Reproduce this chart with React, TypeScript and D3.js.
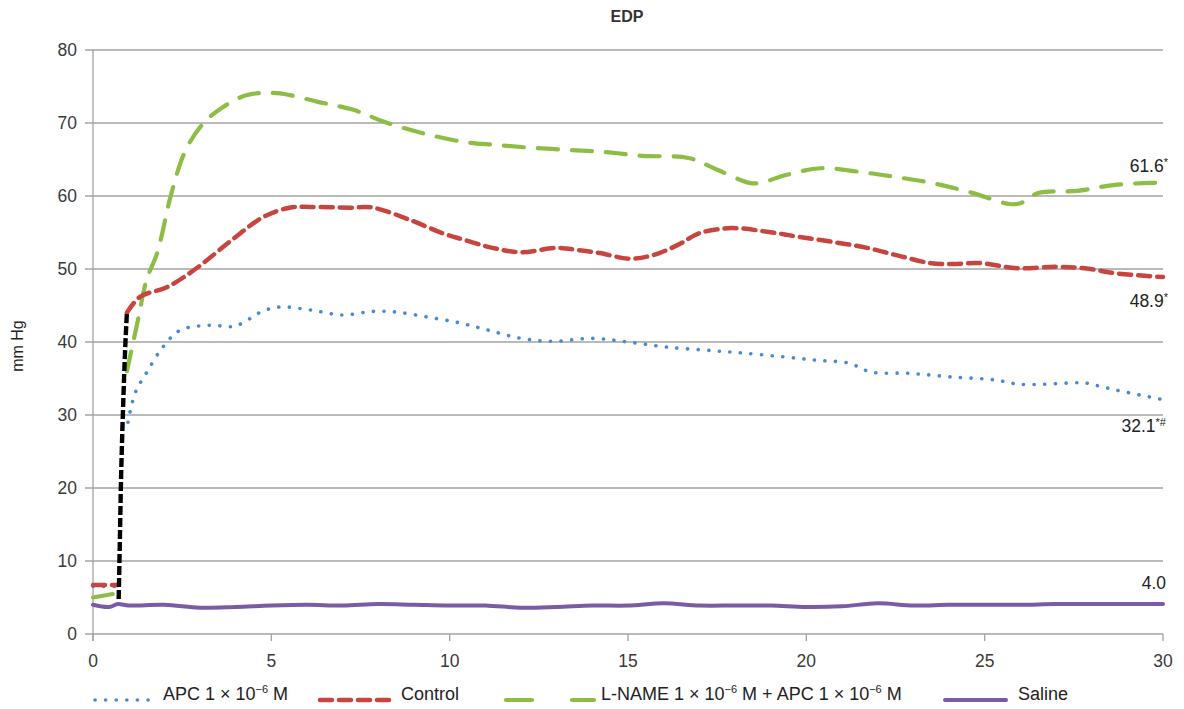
import React, { useEffect, useRef } from 'react';
import * as d3 from 'd3';

type Pt = [number, number];

// minutes vs mm Hg
const apcEarly: Pt[] = [[0, 6.5], [0.7, 6.5]];
const apc: Pt[] = [
  [0.98, 29], [1.18, 33], [1.5, 35.8], [1.96, 39.3], [2.44, 41.6], [3.28, 42.3], [3.9, 42.1], [4.2, 42.6],
  [4.7, 44.1], [5.24, 44.8], [6.08, 44.4], [7, 43.7], [7.85, 44.2], [8.5, 44.1], [9.4, 43.4], [10.3, 42.6],
  [11.1, 41.6], [12, 40.5], [12.9, 40.1], [14, 40.5], [15, 40], [16.1, 39.3], [17.4, 38.8], [18.2, 38.5],
  [19.3, 38], [20.3, 37.5], [21.2, 37.1], [21.8, 35.9], [22.9, 35.7], [24.1, 35.2], [25.3, 34.8], [26, 34.2],
  [27.8, 34.4], [28, 34.2], [28.7, 33.4], [29.8, 32.3], [30, 32.1],
];

const controlEarly: Pt[] = [[0, 6.7], [0.7, 6.7]];
const control: Pt[] = [
  [0.95, 44], [1.32, 46.2], [2.07, 47.5], [2.9, 50.1], [3.9, 54], [4.77, 57.1], [5.5, 58.4], [6.1, 58.5],
  [7.2, 58.4], [7.85, 58.4], [8.9, 56.7], [9.8, 54.9], [10.4, 54], [11.2, 52.9], [12, 52.3], [13, 52.9],
  [13.6, 52.6], [14.2, 52.2], [15.05, 51.4], [15.7, 51.9], [16.4, 53.3], [17, 54.9], [17.9, 55.6], [18.9, 55.1],
  [19.8, 54.4], [20.75, 53.7], [21.7, 52.9], [22.6, 51.8], [23.5, 50.8], [24.2, 50.7], [24.9, 50.8], [25.9, 50.1],
  [27, 50.3], [27.8, 50.1], [28.7, 49.4], [30, 48.9],
];

const lnameEarly: Pt[] = [[0, 5.0], [0.7, 5.6]];
const lname: Pt[] = [
  [0.95, 36], [1.26, 43], [1.5, 48.5], [1.8, 52.2], [2.2, 60.4], [2.6, 66.3], [3.1, 70], [3.65, 72.2],
  [4.3, 73.8], [5.15, 74.1], [6.3, 72.9], [7.3, 71.8], [8.2, 70.1], [9.25, 68.6], [10.4, 67.4], [11.3, 67],
  [12.3, 66.6], [13.4, 66.3], [14.4, 66], [15.4, 65.5], [16.7, 65.2], [17.5, 63.6], [18.4, 61.8], [18.7, 61.8],
  [19.45, 62.9], [20.4, 63.8], [21.5, 63.3], [22.5, 62.6], [23.5, 61.8], [24.6, 60.5], [25.7, 58.9], [26, 59],
  [26.5, 60.4], [27.6, 60.7], [28.6, 61.5], [29.7, 61.8], [30, 61.8],
];

const saline: Pt[] = [
  [0, 4.0], [0.45, 3.7], [0.7, 4.1], [1, 3.9], [2, 4.0], [3, 3.6], [4, 3.7], [5, 3.9], [6, 4.0], [7, 3.9],
  [8, 4.1], [9, 4.0], [10, 3.9], [11, 3.9], [12, 3.6], [13, 3.7], [14, 3.9], [15, 3.9], [16, 4.2], [17, 3.9],
  [18, 3.9], [19, 3.9], [20, 3.7], [21, 3.8], [22, 4.2], [23, 3.9], [24, 4.0], [25, 4.0], [26, 4.0], [27, 4.1],
  [28, 4.1], [29, 4.1], [30, 4.1],
];

// hand drawn black dashed rise
const rise: Pt[] = [[0.72, 4.8], [0.75, 12], [0.79, 22], [0.85, 32], [0.91, 40], [0.95, 44]];

const xTicks = [0, 5, 10, 15, 20, 25, 30];
const yTicks = [0, 10, 20, 30, 40, 50, 60, 70, 80];
const endLabels = [
  { v: 61.6, text: '61.6', sup: '*', dy: -12 },
  { v: 48.9, text: '48.9', sup: '*', dy: 30 },
  { v: 32.1, text: '32.1', sup: '*#', dy: 32 },
  { v: 4.0, text: '4.0', sup: '', dy: -16 },
];

const W = 1184;
const H = 709;
const FONT = '"Liberation Sans", Arial, sans-serif';

export default function App() {
  const ref = useRef<SVGSVGElement>(null);

  useEffect(() => {
    const svg = d3.select(ref.current);
    svg.selectAll('*').remove();

    const x = d3.scaleLinear().domain([0, 30]).range([93, 1163]);
    const y = d3.scaleLinear().domain([0, 80]).range([634, 50]);
    const grid = '#a3a3a3';

    // gridlines
    svg.append('g').selectAll('line').data(yTicks).join('line')
      .attr('x1', 85).attr('x2', x(30))
      .attr('y1', (d) => y(d)).attr('y2', (d) => y(d))
      .attr('stroke', grid).attr('stroke-width', 1.3);

    svg.append('line')
      .attr('x1', x(0)).attr('x2', x(0)).attr('y1', y(80)).attr('y2', 641)
      .attr('stroke', grid).attr('stroke-width', 1.3);

    svg.append('g').selectAll('line').data(xTicks).join('line')
      .attr('x1', (d) => x(d)).attr('x2', (d) => x(d))
      .attr('y1', y(0)).attr('y2', 641)
      .attr('stroke', grid).attr('stroke-width', 1.3);

    svg.append('g').selectAll('text').data(yTicks).join('text')
      .attr('x', 77).attr('y', (d) => y(d)).attr('dy', '0.36em')
      .attr('text-anchor', 'end')
      .style('font', `17.5px ${FONT}`).attr('fill', '#3a3a3a')
      .text((d) => d);

    svg.append('g').selectAll('text').data(xTicks).join('text')
      .attr('x', (d) => x(d)).attr('y', 667)
      .attr('text-anchor', 'middle')
      .style('font', `17.5px ${FONT}`).attr('fill', '#3a3a3a')
      .text((d) => d);

    svg.append('text')
      .attr('transform', `translate(23,${346}) rotate(-90)`)
      .attr('text-anchor', 'middle')
      .style('font', `16px ${FONT}`).attr('fill', '#222')
      .text('mm Hg');

    svg.append('text')
      .attr('x', 627).attr('y', 22).attr('text-anchor', 'middle')
      .style('font', `bold 16px ${FONT}`).attr('fill', '#333')
      .text('EDP');

    const line = d3.line<Pt>()
      .x((d) => x(d[0]))
      .y((d) => y(d[1]))
      .curve(d3.curveCatmullRom.alpha(0.5));

    const styles = {
      apc: { stroke: '#4a88d2', width: 3.6, dash: '0.1 10.5', cap: 'round' },
      control: { stroke: '#c8453f', width: 4.5, dash: '12 7', cap: 'round' },
      lname: { stroke: '#8dbd45', width: 4.2, dash: '20 14', cap: 'round' },
      saline: { stroke: '#7b5ba6', width: 4, dash: null, cap: 'round' },
    };

    const draw = (pts: Pt[], s: any) => {
      const p = svg.append('path')
        .attr('d', line(pts))
        .attr('fill', 'none')
        .attr('stroke', s.stroke)
        .attr('stroke-width', s.width)
        .attr('stroke-linecap', s.cap);
      if (s.dash) p.attr('stroke-dasharray', s.dash);
    };

    draw(saline, styles.saline);
    draw(apcEarly, styles.apc);
    draw(apc, styles.apc);
    draw(lnameEarly, styles.lname);
    draw(lname, styles.lname);
    draw(controlEarly, styles.control);
    draw(control, styles.control);

    svg.append('path')
      .attr('d', d3.line<Pt>().x((d) => x(d[0])).y((d) => y(d[1])).curve(d3.curveMonotoneY)(rise))
      .attr('fill', 'none').attr('stroke', '#000').attr('stroke-width', 4.4)
      .attr('stroke-dasharray', '9 3').attr('stroke-linecap', 'butt');

    // end value labels
    const lab = svg.append('g').selectAll('text').data(endLabels).join('text')
      .attr('x', (d) => (d.sup === '*#' ? 1166 : d.sup ? 1168 : 1166))
      .attr('y', (d) => y(d.v) + d.dy)
      .attr('text-anchor', 'end')
      .style('font', `17.5px ${FONT}`).attr('fill', '#222');
    lab.append('tspan').text((d) => d.text);
    lab.append('tspan').attr('dy', -6).style('font-size', '11px').text((d) => d.sup);

    // legend
    const ly = 700;
    const legend = [
      { key: 'apc', x0: 95, x1: 150, tx: 163, label: ['APC 1 × 10', '−6', ' M'] },
      { key: 'control', x0: 320, x1: 390, tx: 401, label: ['Control'] },
      { key: 'lname', x0: 506, x1: 594, tx: 601, label: ['L-NAME 1 × 10', '−6', ' M + APC 1 × 10', '−6', ' M'] },
      { key: 'saline', x0: 945, x1: 1006, tx: 1018, label: ['Saline'] },
    ];
    legend.forEach((l) => {
      const s = (styles as any)[l.key];
      const seg = svg.append('line')
        .attr('x1', l.x0).attr('x2', l.x1).attr('y1', ly).attr('y2', ly)
        .attr('stroke', s.stroke).attr('stroke-width', s.width)
        .attr('stroke-linecap', s.cap);
      if (l.key === 'lname') seg.attr('stroke-dasharray', '26 40');
      else if (s.dash) seg.attr('stroke-dasharray', s.dash);
      const t = svg.append('text').attr('x', l.tx).attr('y', ly).attr('dy', '0.36em')
        .style('font', `18px ${FONT}`).attr('fill', '#222');
      l.label.forEach((part, i) => {
        if (i % 2 === 1) {
          t.append('tspan').attr('dy', -7).style('font-size', '11px').text(part);
        } else {
          t.append('tspan').attr('dy', i === 0 ? 0 : 7).text(part);
        }
      });
    });
  }, []);

  return (
    <svg
      ref={ref}
      width={W}
      height={H}
      style={{ position: 'absolute', left: 0, top: 0, background: '#fff' }}
    />
  );
}
